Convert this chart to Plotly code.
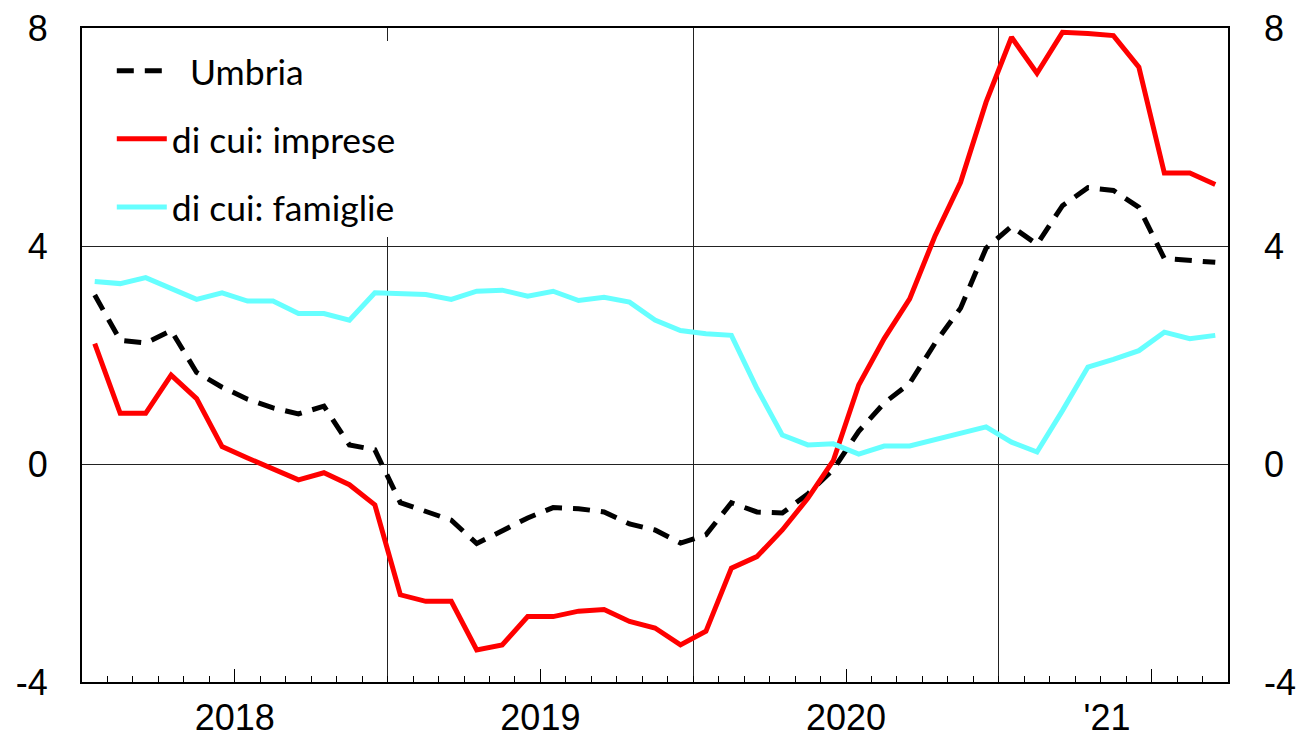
import plotly.graph_objects as go

# Monthly observations, Jan 2018 - Sep 2021 (index 0..44)
months = [f"{y}-{m:02d}" for y in range(2018, 2022) for m in range(1, 13)][:45]
month_idx = list(range(len(months)))

umbria = [3.10, 2.27, 2.22, 2.45, 1.68, 1.41, 1.19, 1.03, 0.92, 1.06, 0.35, 0.26,
          -0.71, -0.88, -1.03, -1.46, -1.23, -0.99, -0.80, -0.82, -0.88, -1.10, -1.21, -1.45,
          -1.30, -0.71, -0.88, -0.90, -0.55, -0.10, 0.60, 1.12, 1.48, 2.22, 2.86, 3.96,
          4.36, 4.03, 4.74, 5.07, 5.02, 4.71, 3.77, 3.74, 3.70]
imprese = [2.21, 0.93, 0.93, 1.63, 1.20, 0.32, 0.11, -0.09, -0.29, -0.16, -0.38, -0.75,
           -2.40, -2.52, -2.52, -3.41, -3.32, -2.80, -2.80, -2.70, -2.67, -2.89, -3.01, -3.32,
           -3.07, -1.91, -1.70, -1.21, -0.63, 0.06, 1.45, 2.30, 3.03, 4.19, 5.17, 6.64,
           7.83, 7.17, 7.92, 7.90, 7.86, 7.28, 5.34, 5.34, 5.13]
famiglie = [3.35, 3.31, 3.42, 3.23, 3.02, 3.14, 2.99, 2.99, 2.76, 2.76, 2.64, 3.14,
            3.13, 3.11, 3.02, 3.17, 3.19, 3.08, 3.17, 3.00, 3.06, 2.97, 2.64, 2.45,
            2.39, 2.36, 1.39, 0.53, 0.35, 0.37, 0.18, 0.33, 0.33, 0.44, 0.57, 0.68,
            0.40, 0.22, 0.98, 1.78, 1.92, 2.08, 2.42, 2.30, 2.36]

year_labels = ["2018", "2019", "2020", "'21"]
year_label_pos = [5.5, 17.5, 29.5, 39.75]
year_bounds = [11.5, 23.5, 35.5]
mid_year_ticks = [5.5, 17.5, 29.5, 41.5]
month_bounds = [i + 0.5 for i in range(44)]
y_ticks = [-4, 0, 4, 8]
y_tick_text = ["-4", "0", "4", "8"]
y_range = [-4, 8]
x_range = [-0.5, 44.5]

TICK_FONT = dict(family="Liberation Sans, Arial, sans-serif", size=36, color="black")
LEG_FONT = dict(family="Lato, Carlito, sans-serif", size=35.5, color="black")

fig = go.Figure()
fig.add_trace(go.Scatter(x=month_idx, y=umbria, name="\u00a0\u00a0Umbria", mode="lines",
                         line=dict(color="black", width=5, dash="17px,11px"),
                         legendgroup="a", hoverinfo="skip"))
fig.add_trace(go.Scatter(x=month_idx, y=imprese, name="di cui: imprese", mode="lines",
                         line=dict(color="#FF0000", width=5), legendgroup="b", hoverinfo="skip"))
fig.add_trace(go.Scatter(x=month_idx, y=famiglie, name="di cui: famiglie", mode="lines",
                         line=dict(color="#66FFFF", width=5), legendgroup="c", hoverinfo="skip"))
# helper empty traces so overlay axes are rendered
for xa, ya in [("x2", "y"), ("x3", "y"), ("x4", "y"), ("x", "y2")]:
    fig.add_trace(go.Scatter(x=[], y=[], xaxis=xa, yaxis=ya, showlegend=False, hoverinfo="skip"))

# page body has an 8px default margin, so the figure is sized to fit the 1310x739 window
fig.update_layout(
    width=1302, height=731,
    margin=dict(l=74, r=82, t=20, b=57),
    paper_bgcolor="white", plot_bgcolor="white",
    showlegend=True,
    legend=dict(x=0.026, y=0.98, xanchor="left", yanchor="top", bgcolor="white",
                font=LEG_FONT, tracegroupgap=19, itemwidth=50, traceorder="grouped"),
    xaxis=dict(range=x_range, tickvals=year_label_pos, ticktext=year_labels, ticks="",
               showgrid=False, zeroline=False, showline=True, mirror=True, automargin=False,
               linecolor="black", linewidth=2, tickfont=TICK_FONT, ticklabelstandoff=3,
               ticklabeloverflow="allow"),
    xaxis2=dict(range=x_range, overlaying="x", anchor="y", side="bottom", tickvals=month_bounds,
                ticks="inside", ticklen=6, tickcolor="black", tickwidth=1, automargin=False,
                showticklabels=False, showgrid=False, zeroline=False, showline=False),
    xaxis3=dict(range=x_range, overlaying="x", anchor="y", side="bottom", tickvals=mid_year_ticks,
                ticks="inside", ticklen=13, tickcolor="black", tickwidth=1, automargin=False,
                showticklabels=False, showgrid=False, zeroline=False, showline=False),
    xaxis4=dict(range=x_range, overlaying="x", anchor="y", side="bottom", tickvals=year_bounds,
                ticks="", showticklabels=False, showgrid=True, gridcolor="#222", gridwidth=1,
                zeroline=False, showline=False, automargin=False),
    yaxis=dict(range=y_range, tickvals=y_ticks, ticktext=y_tick_text, ticks="", showgrid=True,
               gridcolor="#222", gridwidth=1, zeroline=False, showline=True, mirror=True,
               linecolor="black", linewidth=2, tickfont=TICK_FONT, ticklabelstandoff=25,
               automargin=False, ticklabeloverflow="allow"),
    yaxis2=dict(range=y_range, overlaying="y", side="right", anchor="x", tickvals=y_ticks,
                ticktext=y_tick_text, ticks="", showgrid=False, zeroline=False, showline=False,
                tickfont=TICK_FONT, ticklabelstandoff=35, automargin=False,
                ticklabeloverflow="allow"),
)

fig.write_html("out.html")
